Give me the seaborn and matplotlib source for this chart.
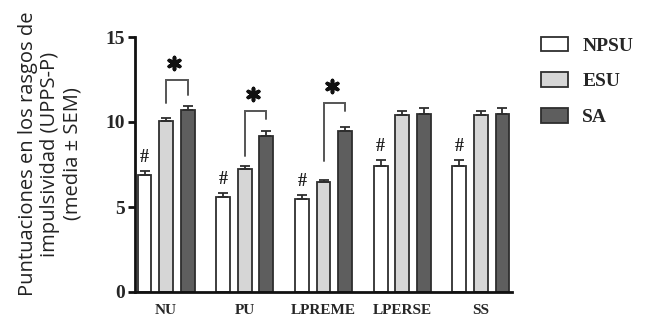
import numpy as np
import pandas as pd
import matplotlib
matplotlib.use("Agg")
import matplotlib.pyplot as plt
from matplotlib.patches import Patch
import seaborn as sns

# UPPS-P subscales and groups
subscales = ["NU", "PU", "LPREME", "LPERSE", "SS"]
groups = ["NPSU", "ESU", "SA"]

# mean scores per group (one value per subscale)
mean_npsu = [6.88, 5.60, 5.50, 7.42, 7.42]
mean_esu = [10.05, 7.22, 6.45, 10.40, 10.40]
mean_sa = [10.70, 9.20, 9.45, 10.50, 10.50]

# standard error of the mean
sem_npsu = [0.25, 0.22, 0.22, 0.33, 0.33]
sem_esu = [0.20, 0.20, 0.15, 0.25, 0.25]
sem_sa = [0.25, 0.25, 0.28, 0.35, 0.35]

colors = ["#ffffff", "#d6d6d6", "#5e5e5e"]
edge = "#2e2e2e"

df = pd.DataFrame({
    "subscale": subscales * 3,
    "group": np.repeat(groups, len(subscales)),
    "mean": mean_npsu + mean_esu + mean_sa,
    "sem": sem_npsu + sem_esu + sem_sa,
})

sns.set_theme(style="ticks")
serif = "Liberation Serif"

fig = plt.figure(figsize=(6.53, 3.2), dpi=100)
ax = fig.add_axes([135 / 653, 1 - 292 / 320, (512 - 135) / 653, (292 - 37) / 320])

sns.barplot(data=df, x="subscale", y="mean", hue="group", order=subscales,
            hue_order=groups, palette=colors, errorbar=None, width=0.82,
            gap=0.35, edgecolor=edge, linewidth=1.3, legend=False, ax=ax)

# one-sided SEM error bars, taken from the bar geometry
centers = {}
tops = {}
for g, cont in zip(groups, ax.containers):
    sub = df[df["group"] == g].set_index("subscale").loc[subscales]
    xs = [p.get_x() + p.get_width() / 2 for p in cont.patches]
    hs = [p.get_height() for p in cont.patches]
    centers[g] = xs
    tops[g] = [h + s for h, s in zip(hs, sub["sem"])]
    ax.errorbar(xs, hs, yerr=[np.zeros(len(xs)), sub["sem"].values],
                fmt="none", ecolor=edge, elinewidth=1.3, capsize=3.5,
                capthick=1.3, zorder=1)

# '#' marks above the NPSU bars
for x, t in zip(centers["NPSU"], tops["NPSU"]):
    ax.text(x, t + 0.8, "#", ha="center", va="center", fontsize=13,
            fontweight="bold", family=serif, color="#1e1e1e")

# significance brackets between ESU and SA: (subscale index, top, left foot, right foot)
brackets = [(0, 12.5, 11.1, 11.6), (1, 10.65, 8.0, 10.2), (2, 11.1, 7.7, 10.65)]
for i, ytop, yl, yr in brackets:
    x1, x2 = centers["ESU"][i], centers["SA"][i]
    ax.plot([x1, x1, x2, x2], [yl, ytop, ytop, yr], color="#555555",
            lw=1.4, solid_joinstyle="miter", clip_on=False)
    ax.scatter([(x1 + x2) / 2 - 0.03], [ytop + 1.0], marker=(6, 2, 0), s=75,
               color="#111111", linewidths=2.6, clip_on=False, zorder=5)

ax.set_xlim(-0.394, 4.394)
ax.set_ylim(0, 15)
ax.set_yticks([0, 5, 10, 15])
ax.set_xlabel("")
ax.set_ylabel("")
sns.despine(ax=ax)
for side in ("left", "bottom"):
    ax.spines[side].set_linewidth(2)
    ax.spines[side].set_color("#111111")
ax.tick_params(axis="y", length=5, width=2, color="#111111", pad=2)
ax.tick_params(axis="x", length=0, pad=9)
for lab in ax.get_yticklabels():
    lab.set_fontfamily(serif)
    lab.set_fontweight("bold")
    lab.set_fontsize(14)
for lab in ax.get_xticklabels():
    lab.set_fontfamily(serif)
    lab.set_fontweight("bold")
    lab.set_fontsize(11)

fig.text(50 / 653, 1 - 154 / 320,
         "Puntuaciones en los rasgos de\nimpulsividad (UPPS-P)\n(media \u00b1 SEM)",
         rotation=90, ha="center", va="center", fontsize=14.5,
         family="Open Sans", color="#222222", linespacing=1.15)

handles = [Patch(facecolor=c, edgecolor=edge, linewidth=1.3) for c in colors]
fig.legend(handles, groups, loc="upper left", bbox_to_anchor=(523 / 653, 1 - 19 / 320),
           frameon=False, prop={"family": serif, "weight": "bold", "size": 14},
           handlelength=1.4, handleheight=0.8, handletextpad=0.75, labelspacing=0.9)

fig.savefig("out.png", dpi=100, facecolor="white")
